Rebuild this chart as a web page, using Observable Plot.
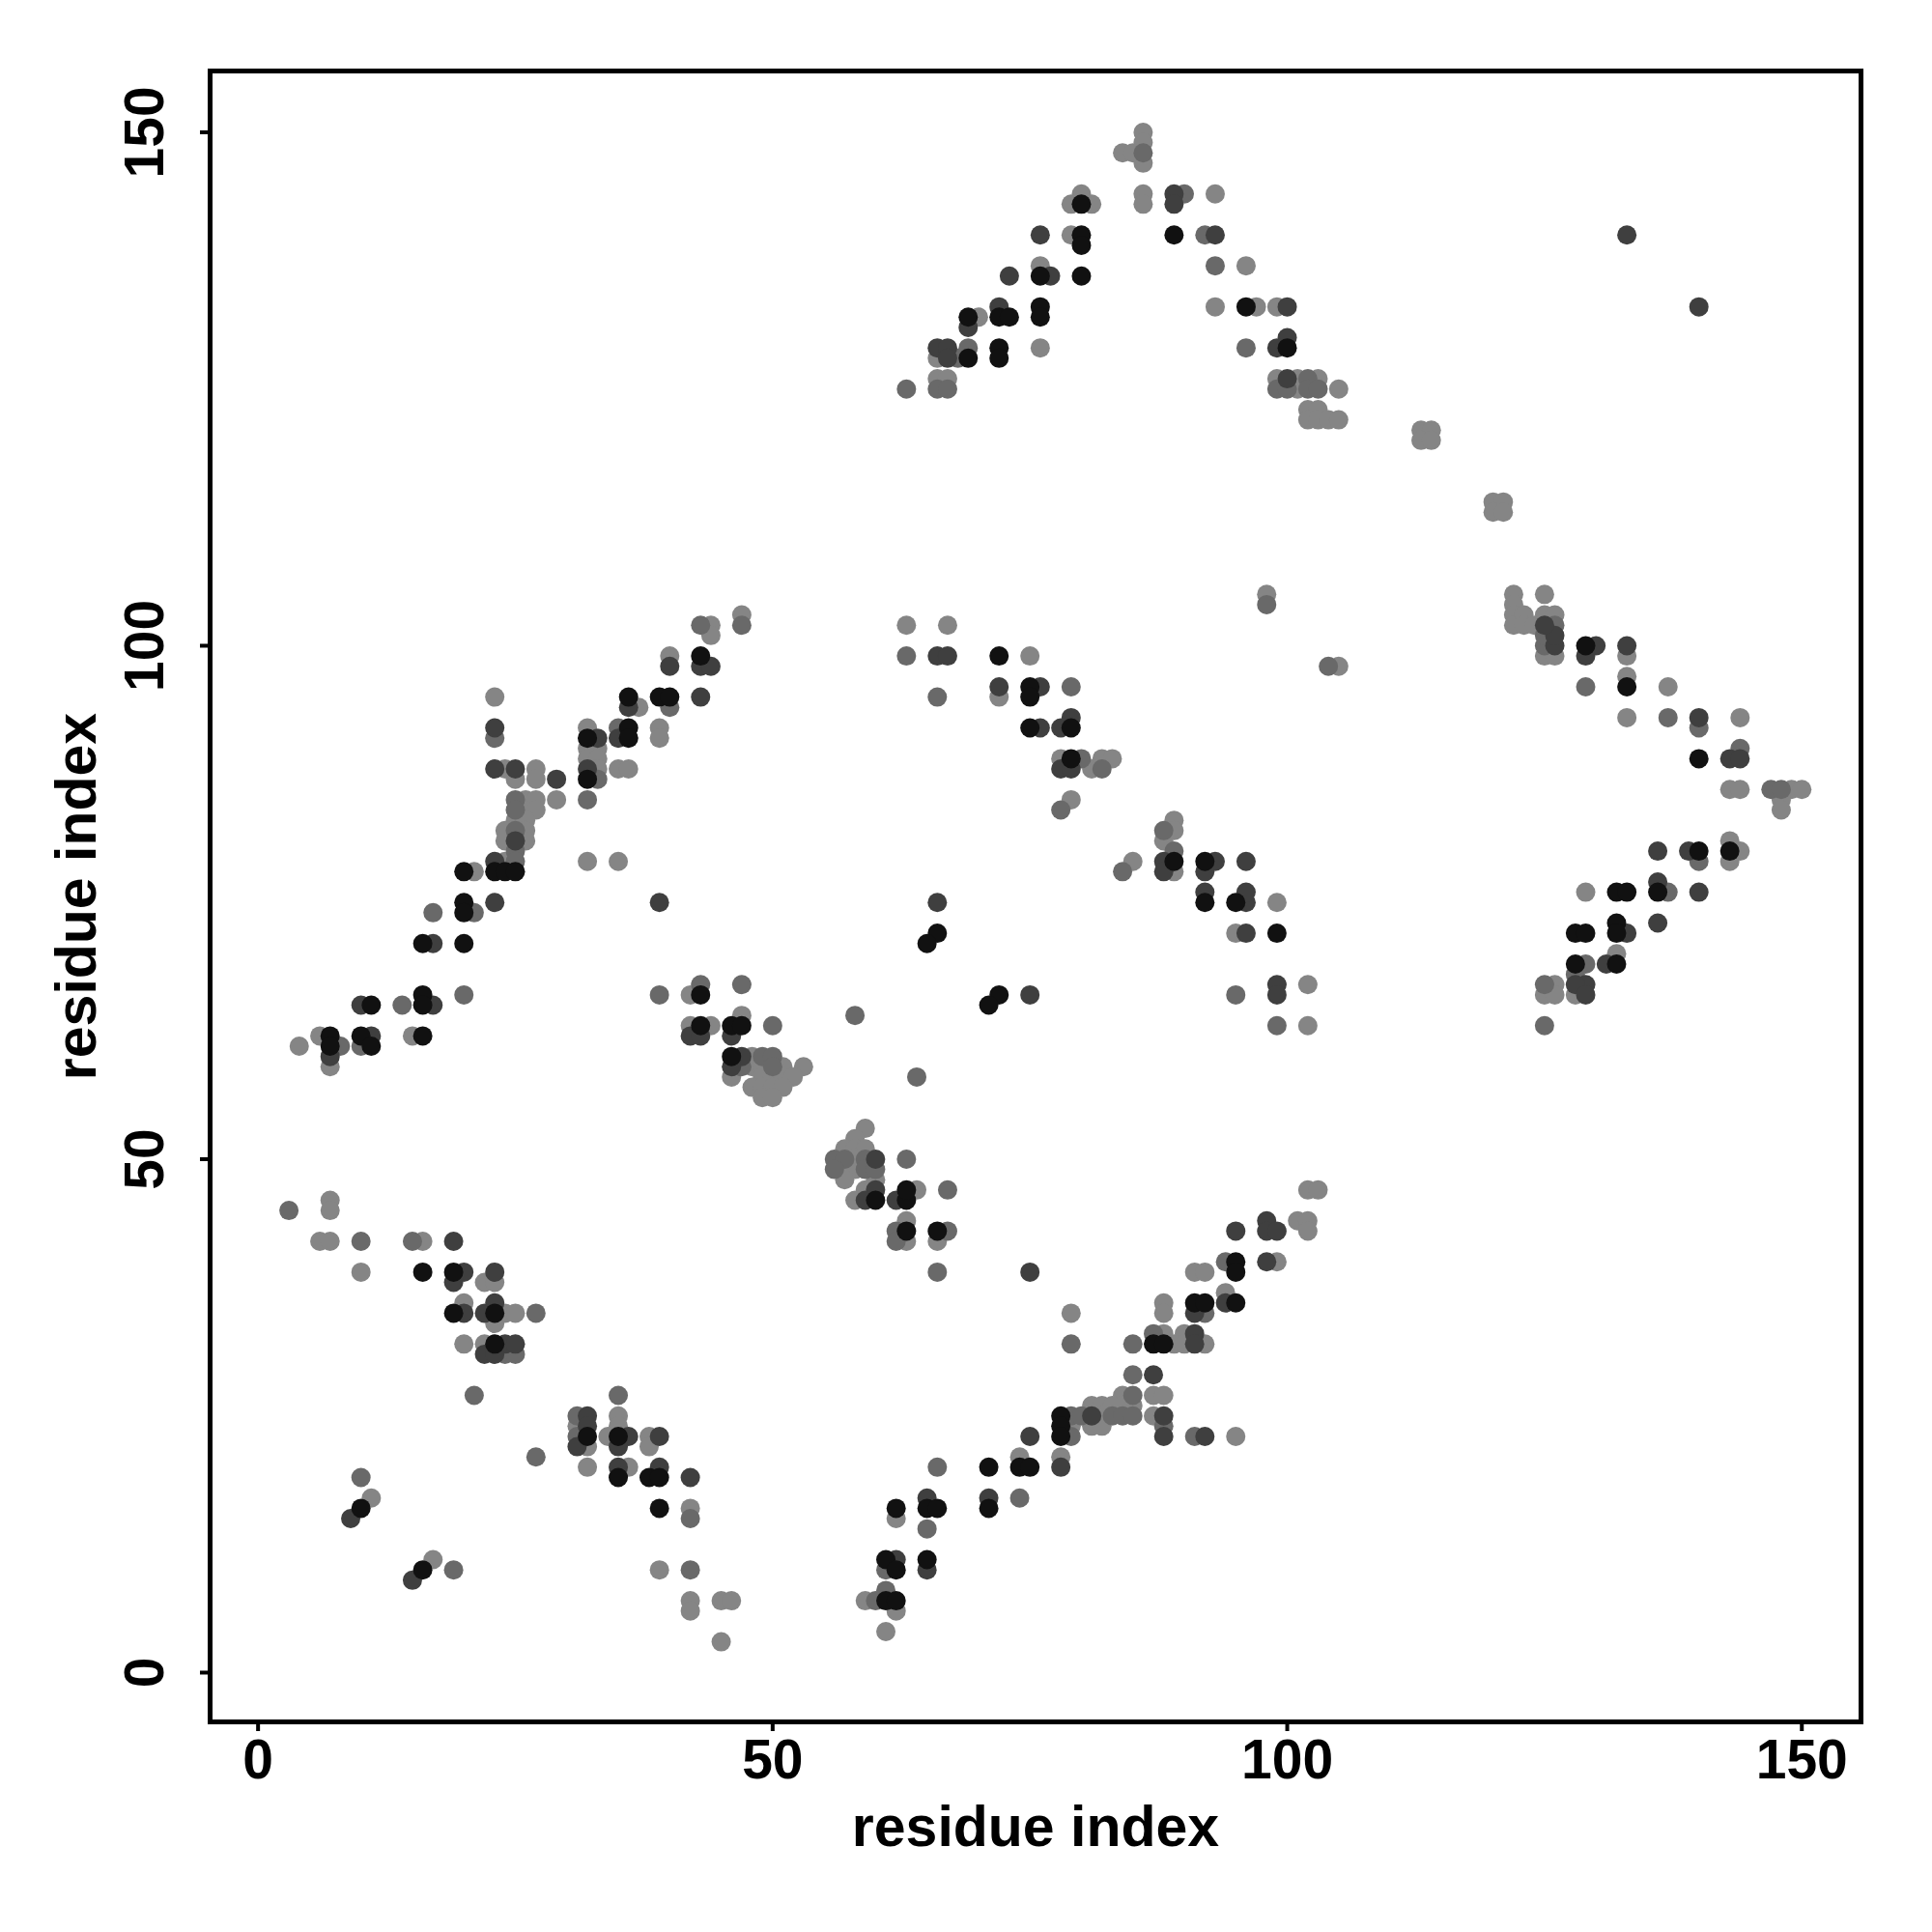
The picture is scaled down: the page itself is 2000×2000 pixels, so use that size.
<!DOCTYPE html>
<html><head><meta charset="utf-8">
<script src="https://cdn.jsdelivr.net/npm/d3@7"></script>
<script src="https://cdn.jsdelivr.net/npm/@observablehq/plot@0.6"></script>
<style>body{margin:0;background:#fff}</style>
</head><body><div id="chart"></div>
<script>
// contact pairs [residue i, residue j], grouped by contact score level
const scoreLevels = [0.05, 0.25, 0.55, 0.88];
const lightContacts = [
[86,150],[86,149],[84,148],[85,148],[86,147],[80,144],[79,143],[81,143],[86,144],[86,143],[93,144],[79,140],[76,137],[96,137],[70,132],[93,133],[97,133],[99,133],[66,128],[76,129],[66,126],[67,126],[99,126],[101,126],[103,126],[101,125],[105,125],[102,123],[103,123],[102,122],[103,122],[104,122],[105,122],[113,121],[114,121],[113,120],[114,120],[120,114],[121,114],[120,113],[121,113],
[44,102],[44,101],[47,103],[40,99],[63,102],[67,102],[98,105],
[23,95],[37,94],[32,92],[39,92],[39,91],[32,90],[33,90],[32,89],[33,89],[33,88],[35,88],[36,88],
[24,88],[27,88],[25,87],[27,87],[26,85],[27,85],[29,85],[26,84],[27,84],[25,83],[26,83],[24,82],[26,82],[24,81],[26,81],[24,79],[21,78],[32,79],[35,79],
[6,62],[7,59],[4,61],[15,62],
[42,66],[42,63],[44,63],[47,64],[48,60],[46,58],[48,59],[49,59],[51,59],[53,59],[49,58],[50,58],[51,58],[52,58],[48,57],[49,57],[50,57],[51,57],[49,56],[50,56],
[7,46],[7,45],[6,42],[7,42],[16,42],[10,39],[22,38],[23,38],[20,36],[23,34],[24,35],[25,35],[20,32],[22,32],[31,24],[32,22],[35,25],[35,24],[34,23],[38,23],[38,22],[32,20],[36,20],[42,16],[39,10],[42,7],[42,6],[45,7],[46,7],[45,3],[11,17],[17,11],
[59,53],[58,52],[57,51],[58,51],[59,51],[58,50],[57,49],[58,49],[57,48],[60,48],[59,47],[58,46],[64,47],[63,44],[63,42],[66,42],
[79,35],[88,36],[88,35],[91,39],[92,39],[94,37],[99,40],[101,44],[102,44],[102,43],[102,47],[103,47],[88,33],[90,33],[89,32],[90,32],[92,32],[84,27],[87,27],[88,27],[81,26],[82,26],[83,26],[84,26],[85,26],[82,25],[87,25],[79,24],[81,24],[82,24],[95,23],[74,21],[78,21],[62,15],[59,7],[62,6],[61,4],
[75,99],[72,95],[78,89],[81,88],[82,89],[83,89],[79,85],[89,83],[89,82],[88,81],[89,78],[85,79],[99,75],[95,72],[102,67],[102,63],
[105,98],[125,99],[126,99],[125,103],[126,103],[125,105],[122,105],[122,104],[122,103],[122,102],[123,103],[123,102],[124,102],[133,99],[133,97],[137,96],[133,93],[144,93],[143,86],[144,86],[149,86],[150,86],[148,85],[148,84],[143,81],[144,80],[143,79],[129,76],[132,70],[128,66],[126,67],[125,66],[126,66]
];
const midContacts = [
[86,148],[90,144],[92,140],[93,137],[68,128],[69,129],[96,129],[63,125],[66,125],[67,125],[99,125],[100,125],[102,126],[102,125],[103,125],
[43,102],[47,102],[98,104],
[40,94],[23,91],[35,92],[33,87],
[25,85],[32,85],[25,84],[25,82],[25,80],[25,79],
[21,74],[17,74],[20,66],[14,65],[8,61],[10,61],
[39,66],[43,67],[47,67],[50,63],[49,60],[50,60],[47,59],[50,59],
[3,45],[10,42],[15,42],[27,35],[24,31],[25,31],[21,27],[27,21],[31,25],[31,23],[35,27],[42,15],[42,10],[10,19],[19,10],
[56,50],[57,50],[59,50],[56,49],[59,49],[60,49],[63,50],[67,47],[62,43],[62,42],[67,43],[58,64],[64,58],
[66,39],[79,32],[85,32],[92,35],[94,40],[87,33],[85,29],[85,27],[79,25],[80,25],[83,25],[84,25],[85,25],[88,24],[79,23],[91,23],[66,20],[74,17],[65,14],[61,10],[60,7],[61,8],
[63,99],[66,95],[79,96],[80,89],[82,88],[78,84],[88,82],[89,80],[84,78],[95,66],[99,63],
[104,98],[125,100],[125,101],[126,102],[129,96],[137,93],[140,92],[144,90],[147,86],[148,86],[140,79],[137,76],[129,69],[128,68],[125,67],[125,63]
];
const darkContacts = [
[89,144],[89,143],[76,140],[93,140],[73,136],[77,136],[72,133],[69,131],[100,133],[66,129],[67,129],[67,128],[100,130],[99,129],[100,126],[133,140],[140,133],
[40,98],[43,98],[44,98],
[36,94],[43,95],[23,92],[33,91],[35,91],[32,88],
[23,88],[25,88],[29,87],[25,81],[23,79],
[23,75],[17,71],[39,75],[17,65],[10,65],[7,60],[11,62],
[42,62],[43,62],[46,62],[47,60],[46,59],
[19,42],[20,39],[19,38],[23,39],[20,35],[22,35],[23,36],[24,32],[25,32],[22,31],[23,31],[32,25],[32,24],[31,22],[36,23],[35,22],[39,23],[35,20],[39,20],[42,19],[9,15],[15,9],
[60,50],[60,47],[59,46],[62,46],
[75,39],[91,35],[94,36],[95,43],[98,44],[98,43],[99,43],[98,40],[91,33],[91,32],[87,29],[81,25],[88,25],[88,23],[92,23],[75,23],[78,20],[71,17],[65,17],[62,11],[65,10],
[66,99],[67,99],[72,96],[76,96],[76,92],[78,92],[79,93],[78,88],[79,88],[88,79],[88,78],[93,79],[92,78],[96,79],[92,76],[96,75],[96,76],[96,72],[66,75],[75,66],[99,67],[99,66],
[126,100],[126,101],[125,102],[130,100],[129,99],[133,100],[140,93],[143,89],[144,89],[136,80],[139,80],[136,77],[140,76],[133,72],[136,73],[131,69],[129,67],[128,67],[129,66]
];
const blackContacts = [
[80,143],[80,140],[80,139],[89,140],[76,136],[80,136],[72,132],[73,132],[76,133],[76,132],[69,132],[96,133],[69,128],[72,129],[72,128],[100,129],
[43,99],
[36,95],[39,95],[40,95],[32,91],[36,92],[36,91],[32,87],
[23,78],[24,78],[25,78],[20,78],
[20,75],[20,74],[16,71],[20,71],[16,66],[16,65],[11,65],[7,62],[7,61],[10,62],[11,61],[16,62],
[43,66],[43,63],[46,63],[47,63],[46,60],
[16,39],[19,39],[19,35],[23,35],[23,32],[32,23],[35,23],[35,19],[38,19],[39,19],[39,16],[10,16],[16,10],
[60,46],[63,46],[63,47],[63,43],[66,43],
[91,36],[92,36],[95,40],[95,39],[95,36],[87,32],[88,32],[78,25],[78,24],[78,23],[74,20],[75,20],[71,20],[71,16],[62,16],[65,16],[66,16],[61,11],[62,10],[65,11],[61,7],[62,7],
[72,99],[75,96],[75,95],[75,92],[79,92],[79,89],[89,79],[92,79],[92,75],[95,75],[99,72],[66,72],[65,71],[72,66],[71,65],
[129,100],[133,96],[140,89],[140,80],[143,80],[132,76],[133,76],[136,76],[128,72],[129,72],[132,73],[132,72],[128,69],[132,69]
];
const xTicks = [0, 50, 100, 150];
const yTicks = [0, 50, 100, 150];
const xTitle = "residue index";
const yTitle = "residue index";

const groups = [lightContacts, midContacts, darkContacts, blackContacts];
const data = groups.flatMap((g, k) => g.map(([i, j]) => ({i, j, p: scoreLevels[k]})));

const font = "'Liberation Sans', Arial, Helvetica, sans-serif";
const chart = Plot.plot({
  width: 2000, height: 2000,
  marginLeft: 217, marginRight: 74, marginTop: 73, marginBottom: 218,
  style: {fontFamily: font, background: "#fff", color: "#000"},
  x: {domain: [-4.66, 155.75]},
  y: {domain: [-4.8, 155.97]},
  color: {type: "linear", domain: [0, 1], range: ["#8c8c8c", "#000000"]},
  marks: [
    Plot.dot(data, {x: "i", y: "j", r: 10, fill: "p", stroke: "none"}),
    Plot.frame({stroke: "#000", strokeWidth: 5}),
    Plot.axisX(xTicks, {tickSize: 10, strokeWidth: 4, tickFormat: () => "", label: null}),
    Plot.axisY(yTicks, {tickSize: 10, strokeWidth: 4, tickFormat: () => "", label: null}),
    Plot.text(xTicks, {x: d => d, text: d => String(d), frameAnchor: "bottom", dy: 40, lineAnchor: "middle", fontSize: 57, fontWeight: "bold", fill: "#000"}),
    Plot.text(yTicks, {y: d => d, text: d => String(d), frameAnchor: "left", dx: -67, rotate: -90, lineAnchor: "middle", textAnchor: "middle", fontSize: 57, fontWeight: "bold", fill: "#000"}),
    Plot.text([xTitle], {text: d => d, frameAnchor: "bottom", dy: 110, lineAnchor: "middle", fontSize: 59, fontWeight: "bold", fill: "#000"}),
    Plot.text([yTitle], {text: d => d, frameAnchor: "left", dx: -137, rotate: -90, lineAnchor: "middle", textAnchor: "middle", fontSize: 59, fontWeight: "bold", fill: "#000"})
  ]
});
document.getElementById("chart").appendChild(chart);
</script>
</body></html>
